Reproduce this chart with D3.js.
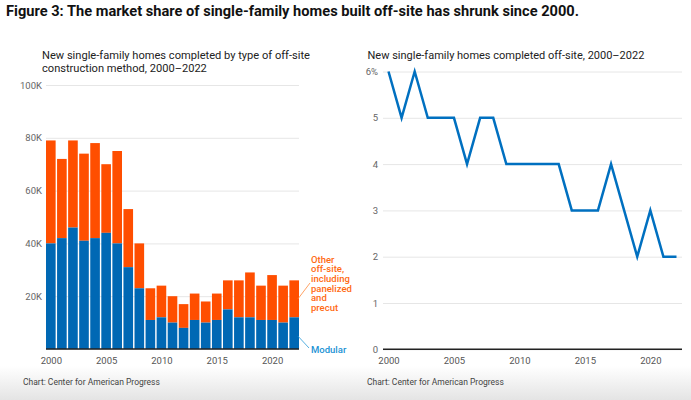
<!DOCTYPE html>
<html>
<head>
<meta charset="utf-8">
<script src="https://cdn.jsdelivr.net/npm/d3@7"></script>
<style>
  body { margin: 0; background: #fff; }
  text { font-family: Roboto, "Liberation Sans", sans-serif; }
</style>
</head>
<body>
<div id="chart"></div>
<script>
var svgWidth = 691;
var svgHeight = 400;

// data
var years = d3.range(2000, 2023);
var modular = [40, 42, 46, 41, 42, 44, 40, 31, 23, 11, 12, 10, 8, 11, 10, 11, 15, 12, 12, 11, 11, 10, 12];
var totalOffsite = [79, 72, 79, 74, 78, 70, 75, 53, 40, 23, 24, 20, 17, 21, 18, 21, 26, 26, 29, 24, 28, 24, 26];
var sharePct = [6, 5, 6, 5, 5, 5, 4, 5, 5, 4, 4, 4, 4, 4, 3, 3, 3, 4, 3, 2, 3, 2, 2];
var barTicks = [0, 20, 40, 60, 80, 100];
var lineTicks = [0, 1, 2, 3, 4, 5, 6];
var yearTicks = [2000, 2005, 2010, 2015, 2020];

var blue = "#0068b4";
var orange = "#ff4e00";

var svg = d3.select("#chart")
    .append("svg")
    .attr("width", svgWidth)
    .attr("height", svgHeight);

// footer shading
var grad = svg.append("defs").append("linearGradient")
    .attr("id", "foot").attr("x1", 0).attr("y1", 0).attr("x2", 0).attr("y2", 1);
grad.append("stop").attr("offset", "0%").attr("stop-color", "#ffffff");
grad.append("stop").attr("offset", "100%").attr("stop-color", "#e4e4e4");
svg.append("rect")
    .attr("x", 0).attr("y", 366).attr("width", svgWidth).attr("height", 34)
    .attr("fill", "url(#foot)");

svg.append("text")
    .attr("x", 6).attr("y", 16)
    .attr("font-size", 15).attr("font-weight", 700)
    .attr("fill", "#111")
    .attr("textLength", 573).attr("lengthAdjust", "spacingAndGlyphs")
    .text("Figure 3: The market share of single-family homes built off-site has shrunk since 2000.");

// ---------- left: stacked bars ----------
var x = d3.scaleBand().domain(years).range([46, 299]).paddingInner(0.13).paddingOuter(0);
var y = d3.scaleLinear().domain([0, 100]).range([349, 85]);

svg.append("text").attr("x", 42).attr("y", 59).attr("font-size", 11.1).attr("fill", "#222")
    .text("New single-family homes completed by type of off-site");
svg.append("text").attr("x", 42).attr("y", 71.5).attr("font-size", 11.1).attr("fill", "#222")
    .text("construction method, 2000–2022");

var leftAxis = d3.axisLeft(y).tickValues(barTicks)
    .tickSize(-253).tickPadding(4)
    .tickFormat(d => d === 0 ? "" : d + "K");
svg.append("g")
    .attr("transform", "translate(46,0)")
    .call(leftAxis)
    .call(g => g.select(".domain").remove())
    .call(g => g.selectAll(".tick line").attr("stroke", "#e6e6e6"))
    .call(g => g.selectAll(".tick text").attr("fill", "#666").attr("font-size", 9.5));

svg.append("g").selectAll("rect")
    .data(years)
    .enter()
    .append("rect")
    .attr("x", d => x(d))
    .attr("width", x.bandwidth())
    .attr("y", (d, i) => y(totalOffsite[i]))
    .attr("height", (d, i) => y(modular[i]) - y(totalOffsite[i]))
    .attr("fill", orange);

svg.append("g").selectAll("rect")
    .data(years)
    .enter()
    .append("rect")
    .attr("x", d => x(d))
    .attr("width", x.bandwidth())
    .attr("y", (d, i) => y(modular[i]))
    .attr("height", (d, i) => y(0) - y(modular[i]))
    .attr("fill", blue);

svg.append("line").attr("x1", 46).attr("x2", 299).attr("y1", 349).attr("y2", 349)
    .attr("stroke", "#222").attr("stroke-width", 1.5);

var bottomAxis = d3.axisBottom(d3.scaleLinear().domain([2000, 2022]).range([46 + x.bandwidth() / 2, 299 - x.bandwidth() / 2]))
    .tickValues(yearTicks).tickFormat(d3.format("d")).tickSize(0).tickPadding(8);
svg.append("g")
    .attr("transform", "translate(0,349)")
    .call(bottomAxis)
    .call(g => g.select(".domain").remove())
    .call(g => g.selectAll(".tick text").attr("fill", "#555").attr("font-size", 9.5));

// annotations
var last = years.length - 1;
var otherMid = (y(totalOffsite[last]) + y(modular[last])) / 2;
svg.append("line")
    .attr("x1", 298).attr("y1", otherMid)
    .attr("x2", 310).attr("y2", 283)
    .attr("stroke", "#ff8a3d").attr("stroke-width", 0.8);
var otherLines = ["Other", "off-site,", "including", "panelized", "and", "precut"];
svg.append("text")
    .attr("x", 311).attr("y", 262.5)
    .attr("font-size", 9.5).attr("font-weight", 500).attr("fill", "#ff6a13")
    .selectAll("tspan")
    .data(otherLines)
    .enter()
    .append("tspan")
    .attr("x", 311)
    .attr("dy", (d, i) => i === 0 ? 0 : 9.7)
    .text(d => d);

svg.append("line")
    .attr("x1", 298).attr("y1", y(modular[last] / 2) + 3)
    .attr("x2", 309).attr("y2", 348)
    .attr("stroke", "#2a9ad8").attr("stroke-width", 0.8);
svg.append("text")
    .attr("x", 311).attr("y", 353)
    .attr("font-size", 9.5).attr("font-weight", 500).attr("fill", "#1a92d4")
    .text("Modular");

svg.append("text").attr("x", 23).attr("y", 384.5).attr("font-size", 8.5).attr("fill", "#444")
    .text("Chart: Center for American Progress");

// ---------- right: line ----------
var x2 = d3.scaleLinear().domain([2000, 2022]).range([388.5, 676.5]);
var y2 = d3.scaleLinear().domain([0, 6]).range([349.3, 71.5]);

svg.append("text").attr("x", 367.5).attr("y", 59).attr("font-size", 11).attr("fill", "#222")
    .text("New single-family homes completed off-site, 2000–2022");

var rightAxis = d3.axisLeft(y2).tickValues(lineTicks)
    .tickSize(-299).tickPadding(5)
    .tickFormat(d => d === 6 ? "6%" : d);
svg.append("g")
    .attr("transform", "translate(383,0)")
    .call(rightAxis)
    .call(g => g.select(".domain").remove())
    .call(g => g.selectAll(".tick line").attr("stroke", "#e6e6e6"))
    .call(g => g.selectAll(".tick text").attr("fill", "#666").attr("font-size", 9.5));

svg.append("line").attr("x1", 383).attr("x2", 682).attr("y1", 349.3).attr("y2", 349.3)
    .attr("stroke", "#222").attr("stroke-width", 1.5);

svg.append("g")
    .attr("transform", "translate(0,349)")
    .call(d3.axisBottom(x2).tickValues(yearTicks).tickFormat(d3.format("d")).tickSize(0).tickPadding(8))
    .call(g => g.select(".domain").remove())
    .call(g => g.selectAll(".tick text").attr("fill", "#555").attr("font-size", 9.5));

var line = d3.line()
    .x((d, i) => x2(years[i]))
    .y(d => y2(d));
svg.append("path")
    .datum(sharePct)
    .attr("d", line)
    .attr("fill", "none")
    .attr("stroke", "#0070c0")
    .attr("stroke-width", 2.5)
    .attr("stroke-linejoin", "miter");

svg.append("text").attr("x", 367).attr("y", 384.5).attr("font-size", 8.5).attr("fill", "#444")
    .text("Chart: Center for American Progress");
</script>
</body>
</html>
